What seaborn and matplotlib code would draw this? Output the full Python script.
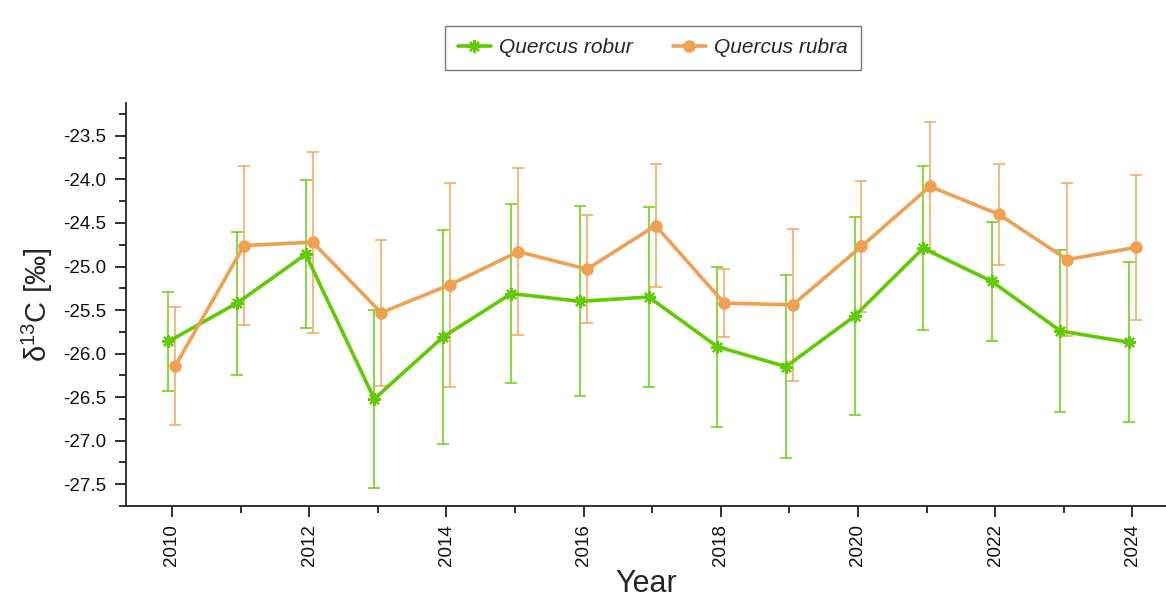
import numpy as np
import pandas as pd
import matplotlib
matplotlib.use("Agg")
import matplotlib.pyplot as plt
from matplotlib.ticker import MultipleLocator, FormatStrFormatter
import seaborn as sns

# Mean δ13C per year with standard deviation
years = [2010, 2011, 2012, 2013, 2014, 2015, 2016, 2017,
         2018, 2019, 2020, 2021, 2022, 2023, 2024]
robur_mean = [-25.86, -25.42, -24.86, -26.52, -25.81, -25.31, -25.40, -25.35,
              -25.92, -26.15, -25.57, -24.79, -25.17, -25.74, -25.87]
robur_sd = [0.57, 0.82, 0.85, 1.02, 1.23, 1.03, 1.09, 1.03,
            0.92, 1.05, 1.14, 0.94, 0.68, 0.93, 0.92]
rubra_mean = [-26.14, -24.76, -24.72, -25.53, -25.21, -24.83, -25.03, -24.53,
              -25.42, -25.44, -24.77, -24.08, -24.40, -24.92, -24.78]
rubra_sd = [0.68, 0.91, 1.04, 0.84, 1.17, 0.96, 0.62, 0.71,
            0.39, 0.87, 0.75, 0.74, 0.58, 0.88, 0.83]

species = ["Quercus robur", "Quercus rubra"]
colors = {"Quercus robur": "#5fcb00", "Quercus rubra": "#f0a050"}
markers = {"Quercus robur": (8, 2, 0), "Quercus rubra": "o"}
dodge = {"Quercus robur": -0.05, "Quercus rubra": 0.05}

df = pd.concat([
    pd.DataFrame({"Year": years, "d13C": robur_mean, "sd": robur_sd, "Species": species[0]}),
    pd.DataFrame({"Year": years, "d13C": rubra_mean, "sd": rubra_sd, "Species": species[1]}),
], ignore_index=True)
df["xpos"] = df["Year"] + df["Species"].map(dodge)

sns.set_theme(style="ticks")
plt.rcParams["font.family"] = ["Liberation Sans", "DejaVu Sans"]
plt.rcParams["mathtext.fontset"] = "custom"
plt.rcParams["mathtext.rm"] = "Liberation Sans"
plt.rcParams["mathtext.it"] = "Liberation Sans:italic"

fig = plt.figure(figsize=(11.66, 6.01), dpi=100)
ax = fig.add_axes([0.108, 0.158, 0.892, 0.671])

for sp in species:
    sub = df[df["Species"] == sp]
    ax.errorbar(sub["xpos"], sub["d13C"], yerr=sub["sd"], fmt="none",
                ecolor=colors[sp], elinewidth=1.3, capsize=4, capthick=1.3,
                alpha=0.8, zorder=2)
    sns.lineplot(data=sub, x="xpos", y="d13C", ax=ax, color=colors[sp],
                 marker=markers[sp], markersize=9,
                 markeredgewidth=1.6 if sp == species[0] else 0,
                 markeredgecolor=colors[sp], linewidth=2.6, label=sp,
                 zorder=3, sort=True)

ax.set_xlim(2009.33, 2024.49)
ax.set_ylim(-27.75, -23.12)
ax.xaxis.set_major_locator(MultipleLocator(2))
ax.xaxis.set_minor_locator(MultipleLocator(1))
ax.yaxis.set_major_locator(MultipleLocator(0.5))
ax.yaxis.set_minor_locator(MultipleLocator(0.25))
ax.yaxis.set_major_formatter(FormatStrFormatter("%.1f"))
ax.tick_params(axis="both", which="major", length=8, width=1.3, labelsize=13.5,
               colors="#222222", labelcolor="#111111")
ax.tick_params(axis="both", which="minor", length=5, width=1.3, colors="#222222")
ax.tick_params(axis="x", labelrotation=90, pad=5)
ax.tick_params(axis="y", pad=6)

for s in ["top", "right"]:
    ax.spines[s].set_visible(False)
for s in ["left", "bottom"]:
    ax.spines[s].set_linewidth(1.3)
    ax.spines[s].set_color("#222222")

ax.set_xlabel("Year", fontsize=22, labelpad=2)
ax.set_ylabel("δ$^{13}$C [‰]", fontsize=21, labelpad=6)

handles, labels = ax.get_legend_handles_labels()
if ax.get_legend():
    ax.get_legend().remove()
leg = fig.legend(handles, labels, loc="upper center", bbox_to_anchor=(0.56, 0.957),
                 ncol=2, frameon=True, fancybox=False, edgecolor="#555555",
                 prop={"size": 15, "style": "italic"}, borderpad=0.6,
                 borderaxespad=0, columnspacing=1.9, handlelength=1.6,
                 handletextpad=0.4)
leg.get_frame().set_linewidth(1.0)

fig.savefig("out.png", dpi=100, facecolor="white")
